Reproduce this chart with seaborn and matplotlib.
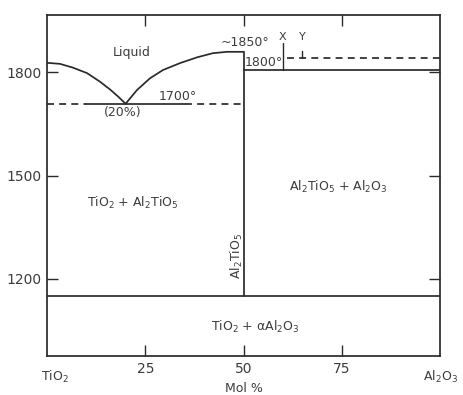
import numpy as np
import pandas as pd
import matplotlib
matplotlib.use("Agg")
import matplotlib.pyplot as plt
import seaborn as sns

# ---- data ----
left_liq_x = [0, 3.3, 6.6, 10.2, 13.5, 16.0, 18.1, 20]
left_liq_t = [1828, 1825, 1814, 1798, 1773, 1751, 1730, 1709]
right_liq_x = [20, 22.9, 26.2, 29.5, 33.8, 38.2, 42.2, 45.8, 50]
right_liq_t = [1709, 1749, 1783, 1807, 1827, 1844, 1856, 1860, 1860]
eutectic_t = 1709
congruent_x = 50
congruent_t = 1860
peritectic_solid_t = 1806
peritectic_dash_t = 1842
subsolidus_t = 1149
marker_x = [60, 65]
marker_top = [1885, 1862]
marker_bot = [1806, 1842]
marker_names = ["X", "Y"]
x_ticks = [25, 50, 75]
y_ticks = [1200, 1500, 1800]
x_lim = (0, 100)
y_lim = (976, 1967)

sns.set_theme(style="white")
plt.rcParams["font.family"] = ["DejaVu Sans"]
plt.rcParams["mathtext.default"] = "regular"

ink = "#2a2a2a"
txt = "#3c3c3c"
lw = 1.25

fig = plt.figure(figsize=(4.64, 3.95), dpi=100)
ax = fig.add_axes([47 / 464, 1 - 356 / 395, (440 - 47) / 464, (356 - 15) / 395])

liq = pd.DataFrame({"x": left_liq_x + right_liq_x[1:],
                    "t": left_liq_t + right_liq_t[1:]})
sns.lineplot(data=liq, x="x", y="t", sort=False, color=ink, lw=lw, ax=ax)

dash = (0, (4, 3))
# eutectic line: dashed / solid / dashed
ax.plot([0, 10], [eutectic_t] * 2, color=ink, lw=lw, ls=dash)
ax.plot([10, 35], [eutectic_t] * 2, color=ink, lw=lw)
ax.plot([35, congruent_x], [eutectic_t] * 2, color=ink, lw=lw, ls=dash)

# Al2TiO5 vertical line
ax.plot([congruent_x, congruent_x], [subsolidus_t, congruent_t], color=ink, lw=lw)
# right solid and dashed lines
ax.plot([congruent_x, 100], [peritectic_solid_t] * 2, color=ink, lw=lw)
ax.plot([61, 100], [peritectic_dash_t] * 2, color=ink, lw=lw, ls=dash)
# subsolidus
ax.plot([0, 100], [subsolidus_t] * 2, color=ink, lw=lw)

# X / Y markers
for mx, top, bot, nm in zip(marker_x, marker_top, marker_bot, marker_names):
    ax.plot([mx, mx], [bot, top], color=ink, lw=1.0)
    ax.text(mx, 1902, nm, ha="center", va="center", fontsize=8, color=txt)

ax.set_xlim(*x_lim)
ax.set_ylim(*y_lim)
ax.set_xticks(x_ticks)
ax.set_yticks(y_ticks)
ax.set_xticklabels([str(v) for v in x_ticks])
ax.set_yticklabels([str(v) for v in y_ticks])
ax.tick_params(direction="in", length=8, width=1.0, colors=ink,
               labelcolor=txt, labelsize=10, top=True, right=True,
               bottom=True, left=True, pad=4)
ax.set_xlabel("")
ax.set_ylabel("")
for s in ax.spines.values():
    s.set_color(ink)
    s.set_linewidth(lw)

fs = 9
ax.text(21.6, 1858, "Liquid", ha="center", va="center", fontsize=fs, color=txt)
ax.text(33.3, 1729, "1700°", ha="center", va="center", fontsize=fs, color=txt)
ax.text(19.3, 1684, "(20%)", ha="center", va="center", fontsize=fs, color=txt)
ax.text(50.4, 1888, "~1850°", ha="center", va="center", fontsize=fs, color=txt)
ax.text(55.2, 1828, "1800°", ha="center", va="center", fontsize=fs, color=txt)
ax.text(21.9, 1421, "TiO$_2$ + Al$_2$TiO$_5$", ha="center", va="center", fontsize=fs, color=txt)
ax.text(74, 1468, "Al$_2$TiO$_5$ + Al$_2$O$_3$", ha="center", va="center", fontsize=fs, color=txt)
ax.text(52.9, 1060, "TiO$_2$ + αAl$_2$O$_3$", ha="center", va="center", fontsize=fs, color=txt)
ax.text(48.4, 1267, "Al$_2$TiO$_5$", ha="center", va="center", fontsize=fs, color=txt, rotation=90)

ax.text(0.02, -0.062, "TiO$_2$", transform=ax.transAxes, ha="center", va="center", fontsize=fs, color=txt)
ax.text(1.0, -0.062, "Al$_2$O$_3$", transform=ax.transAxes, ha="center", va="center", fontsize=fs, color=txt)
ax.text(0.5, -0.094, "Mol %", transform=ax.transAxes, ha="center", va="center", fontsize=fs, color=txt)

fig.savefig("out.png", dpi=100, facecolor="white")
